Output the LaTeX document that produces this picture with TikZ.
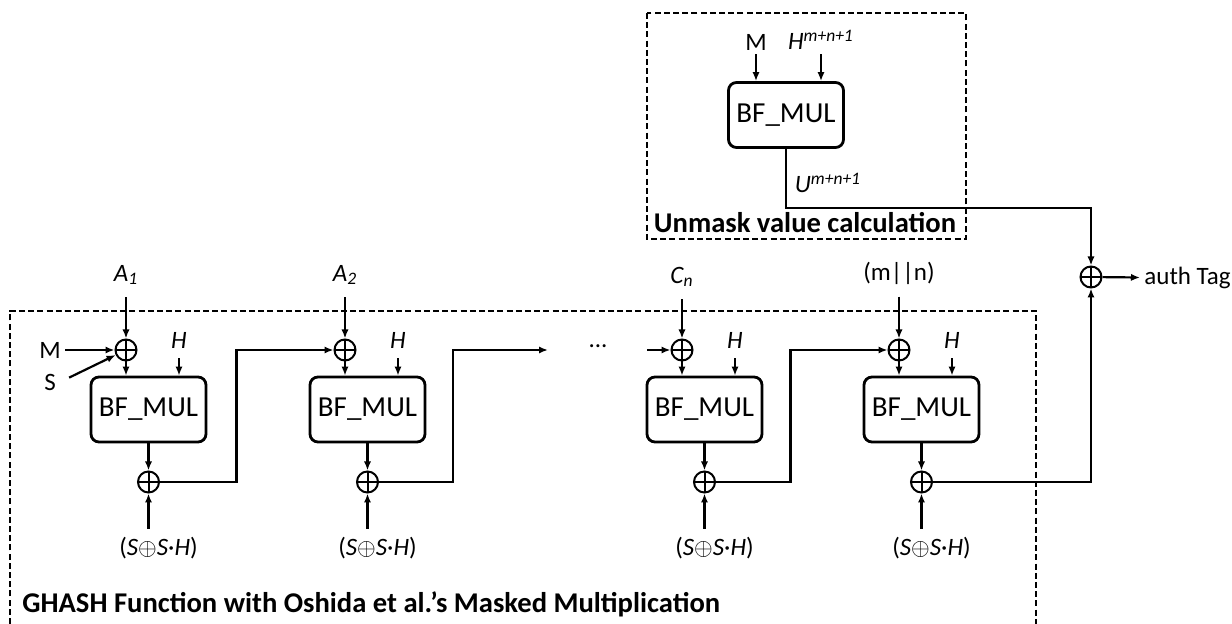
\documentclass[tikz,border=0pt]{standalone}
\usepackage{fontspec}
\setmainfont{Carlito}
\usetikzlibrary{arrows.meta}

\tikzset{
	mulbox/.style={draw, rounded corners=4pt, line width=1.4pt, minimum width=57.5pt, minimum height=32.5pt, font=\fontsize{14.5}{16}\selectfont},
	xorgate/.style={draw, circle, line width=1pt, minimum size=10.5pt, inner sep=0pt,
		path picture={\draw[line width=1pt] (path picture bounding box.north) -- (path picture bounding box.south)
			(path picture bounding box.west) -- (path picture bounding box.east);}},
	lbl/.style={font=\fontsize{12.5}{14}\selectfont, inner sep=2pt},
	boxtitle/.style={font=\fontsize{14.3}{16}\selectfont\bfseries, inner sep=2pt},
	dashframe/.style={line width=0.8pt, dash pattern=on 3pt off 1.6pt},
	flow/.style={line width=1.1pt, -{Latex[length=4.5pt,width=3.6pt]}},
}
\newcommand{\maskterm}{(\textit{S}$\mathord{\oplus}$\textit{S}·\textit{H})}

\begin{document}
\begin{tikzpicture}[x=0.5pt,y=-0.5pt]
	\useasboundingbox (0,0) rectangle (1232,624);

	% unmask value calculation
	\draw[dashframe] (647,13) rectangle (966,239);
	\node[mulbox] (umul) at (786,115) {BF\_MUL};
	\node[lbl] (um) at (756,42) {M};
	\node[lbl] (uh) at (821,40) {\textit{H\textsuperscript{m+n+1}}};
	\node[lbl] (uu) at (828,183) {\textit{U\textsuperscript{m+n+1}}};
	\node[boxtitle] (utitle) at (805,223) {Unmask value calculation};
	\draw[flow] (um) -- (um |- umul.north);
	\draw[flow] (uh) -- (uh |- umul.north);

	% GHASH
	\draw[dashframe] (10,624) -- (10,311) -- (1036,311) -- (1036,624);
	\node[boxtitle, anchor=west] (gtitle) at (18,604) {GHASH Function with Oshida et al.'s Masked Multiplication};

	\node[mulbox] (mul1) at (148.5,409.5) {BF\_MUL};
	\node[xorgate] (x1a) at (126,350) {};
	\node[xorgate] (x1b) at (148.5,482) {};
	\node[lbl] (a1) at (126,275) {\textit{A\textsubscript{1}}};
	\node[lbl] (h1) at (179,340) {\textit{H}};
	\node[lbl] (m1) at (50,350) {M};
	\node[lbl] (s1) at (50,382) {S};
	\node[lbl] (k1) at (158.5,548) {\maskterm};

	\node[mulbox] (mul2) at (367.5,409.5) {BF\_MUL};
	\node[xorgate] (x2a) at (345,350) {};
	\node[xorgate] (x2b) at (367.5,482) {};
	\node[lbl] (a2) at (345,275) {\textit{A\textsubscript{2}}};
	\node[lbl] (h2) at (398,340) {\textit{H}};
	\node[lbl] (k2) at (377.5,548) {\maskterm};

	\node[lbl] (dots) at (598,346) {...};
	\coordinate (dotsin) at (548,350);
	\coordinate (nin) at (647,350);

	\node[mulbox] (mul3) at (704.5,409.5) {BF\_MUL};
	\node[xorgate] (x3a) at (682,350) {};
	\node[xorgate] (x3b) at (704.5,482) {};
	\node[lbl] (a3) at (682,277) {\textit{C\textsubscript{n}}};
	\node[lbl] (h3) at (735,340) {\textit{H}};
	\node[lbl] (k3) at (714.5,548) {\maskterm};

	\node[mulbox] (mul4) at (921.5,409.5) {BF\_MUL};
	\node[xorgate] (x4a) at (899,350) {};
	\node[xorgate] (x4b) at (921.5,482) {};
	\node[lbl] (a4) at (899,273) {(m||n)};
	\node[lbl] (h4) at (952,340) {\textit{H}};
	\node[lbl] (k4) at (931.5,548) {\maskterm};

	\node[xorgate] (fx) at (1091,277) {};
	\node[lbl, anchor=west] (tag) at (1140,278) {auth Tag};

	\foreach \i in {1,2,3,4}{
		\draw[flow, shorten <=4pt] (a\i) -- (x\i a);
		\draw[flow] (x\i a) -- (x\i a |- mul\i.north);
		\draw[flow, shorten <=3pt] (h\i) -- (h\i |- mul\i.north);
		\draw[flow] (mul\i) -- (x\i b);
		\draw[flow, shorten <=2pt] (x\i b |- k\i.north) -- (x\i b);
	}
	\draw[flow] (m1) -- (x1a);
	\draw[flow, shorten <=5pt] (s1.east) -- (x1a);
	\draw[flow] (nin) -- (x3a);

	\draw[flow] (x1b) -- ++(88,0) |- (x2a);
	\draw[flow] (x2b) -- ++(85.5,0) |- (dotsin);
	\draw[flow] (x3b) -- ++(86,0) |- (x4a);
	\draw[flow] (x4b) -| (fx);
	\draw[flow] (umul.south) -- ++(0,59) -| (fx);
	\draw[flow] (fx) -- (tag);
\end{tikzpicture}
\end{document}
